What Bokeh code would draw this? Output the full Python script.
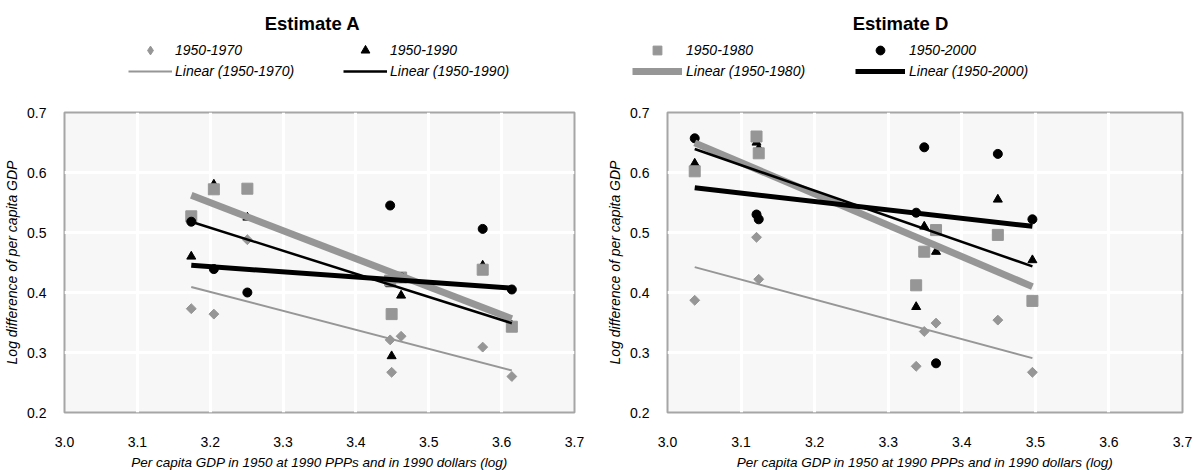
import numpy as np
from bokeh.plotting import figure
from bokeh.models import (Range1d, FixedTicker, NumeralTickFormatter, Legend,
                          LegendItem, Label)
from bokeh.layouts import row, column
from bokeh.embed import file_html
from bokeh.resources import INLINE

# ---------------- data ----------------
x_ticks = [3.0, 3.1, 3.2, 3.3, 3.4, 3.5, 3.6, 3.7]
y_ticks = [0.2, 0.3, 0.4, 0.5, 0.6, 0.7]

# Estimate A
a_x = [3.174, 3.205, 3.251, 3.447, 3.449, 3.462, 3.574, 3.614]
a_1970 = [0.373, 0.364, 0.488, 0.321, 0.267, 0.327, 0.309, 0.260]
a_1980 = [0.527, 0.572, 0.573, 0.420, 0.364, 0.425, 0.438, 0.343]
a_1990 = [0.460, 0.580, 0.525, 0.414, 0.294, 0.395, 0.445, 0.345]
a_2000 = [0.518, 0.439, 0.400, 0.545, 0.170, 0.425, 0.506, 0.405]

# Estimate D
d_x = [3.037, 3.121, 3.124, 3.338, 3.349, 3.365, 3.449, 3.496]
d_1970 = [0.387, 0.492, 0.422, 0.277, 0.335, 0.349, 0.354, 0.267]
d_1980 = [0.602, 0.660, 0.632, 0.412, 0.468, 0.504, 0.496, 0.386]
d_1990 = [0.615, 0.650, 0.640, 0.376, 0.510, 0.468, 0.555, 0.454]
d_2000 = [0.657, 0.530, 0.522, 0.533, 0.642, 0.282, 0.631, 0.522]

titles = ["Estimate A", "Estimate D"]
x_title = "Per capita GDP in 1950 at 1990 PPPs and in 1990 dollars (log)"
y_title = "Log difference of per capita GDP"

FONT = "Liberation Sans"
GREY = "#969696"

STYLE = {
    "1950-1970": dict(marker="square", angle=np.pi / 4, size=7, color=GREY,
                      lc=GREY, lw=2, key="diamond"),
    "1950-1980": dict(marker="square", angle=0, size=11, color=GREY,
                      lc=GREY, lw=7, key="square"),
    "1950-1990": dict(marker="triangle", angle=0, size=9, color="black",
                      lc="black", lw=2.5, key="triangle"),
    "1950-2000": dict(marker="circle", angle=0, size=9, color="black",
                      lc="black", lw=5, key="circle"),
}


def trend(xs, ys):
    k, b = np.polyfit(xs, ys, 1)
    xe = [min(xs), max(xs)]
    return xe, [k * v + b for v in xe]


def build(xs, series, b_left, b_right, f_width):
    p = figure(frame_width=f_width, frame_height=300,
               x_range=Range1d(3.0, 3.7), y_range=Range1d(0.2, 0.7),
               output_backend="svg", toolbar_location=None, title=None,
               min_border_left=b_left, min_border_right=b_right,
               min_border_top=8, min_border_bottom=58,
               background_fill_color="#f7f7f7", border_fill_color="white",
               outline_line_color="#a6a6a6", outline_line_width=2)

    for name in ["1950-1970", "1950-1990", "1950-1980", "1950-2000"]:
        st = STYLE[name]
        p.scatter(xs, series[name], marker=st["marker"], angle=st["angle"],
                  size=st["size"], color=st["color"])
    for name in ["1950-1970", "1950-1980", "1950-1990", "1950-2000"]:
        st = STYLE[name]
        tx, ty = trend(xs, series[name])
        p.line(tx, ty, line_color=st["lc"], line_width=st["lw"])

    for ax in (p.xaxis[0], p.yaxis[0]):
        ax.axis_line_color = None
        ax.major_tick_line_color = None
        ax.minor_tick_line_color = None
        ax.major_label_text_font = FONT
        ax.major_label_text_font_size = "14px"
        ax.major_label_text_color = "black"
        ax.axis_label_text_font = FONT
        ax.axis_label_text_font_style = "italic"
        ax.axis_label_text_color = "black"
        ax.formatter = NumeralTickFormatter(format="0.0")
    p.xaxis.axis_label_text_font_size = "13.5px"
    p.yaxis.axis_label_text_font_size = "14px"
    p.xaxis.ticker = FixedTicker(ticks=x_ticks)
    p.yaxis.ticker = FixedTicker(ticks=y_ticks)
    p.xaxis.major_label_standoff = 18
    p.yaxis.major_label_standoff = 12
    p.xaxis.axis_label = x_title
    p.yaxis.axis_label = y_title
    p.xaxis.axis_label_standoff = 5
    p.yaxis.axis_label_standoff = 4

    p.xgrid.ticker = FixedTicker(ticks=x_ticks)
    p.ygrid.ticker = FixedTicker(ticks=y_ticks)
    p.grid.grid_line_color = "white"
    p.grid.grid_line_width = 3
    return p


pA = build(a_x, {"1950-1970": a_1970, "1950-1980": a_1980,
                 "1950-1990": a_1990, "1950-2000": a_2000}, 64, 30, 510)
pD = build(d_x, {"1950-1970": d_1970, "1950-1980": d_1980,
                 "1950-1990": d_1990, "1950-2000": d_2000}, 63, 11, 515)

# ---------------- header: titles and legend keys ----------------
H = 104
hdr = figure(width=1193, height=H, x_range=Range1d(0, 1193),
             y_range=Range1d(H, 0), output_backend="svg",
             toolbar_location=None, title=None, min_border=0,
             x_axis_location=None, y_axis_location=None,
             outline_line_color=None)
hdr.grid.visible = False

# legend-key renderers (a single NaN point each, nothing drawn in the plot)
keys = {}
for name, st in STYLE.items():
    m = hdr.scatter([np.nan], [np.nan], marker=st["key"],
                    size=st["size"], color=st["color"])
    l = hdr.line([np.nan, np.nan], [np.nan, np.nan], line_color=st["lc"],
                 line_width=st["lw"])
    keys[name] = (m, l)


def legend(names, which, loc, glyph_w, standoff, label_w):
    items = []
    for n in names:
        if which == 0:
            items.append(LegendItem(label=n, renderers=[keys[n][0]]))
        else:
            items.append(LegendItem(label="Linear (" + n + ")",
                                    renderers=[keys[n][1]]))
    return Legend(items=items, orientation="horizontal", location=loc,
                  padding=0, margin=0, spacing=0,
                  glyph_width=glyph_w, glyph_height=22, label_height=22,
                  label_width=label_w, label_standoff=standoff,
                  label_text_font=FONT, label_text_font_style="italic",
                  label_text_font_size="14px", label_text_color="black",
                  border_line_color=None, background_fill_alpha=0)


left_names = ["1950-1970", "1950-1990"]
right_names = ["1950-1980", "1950-2000"]
hdr.add_layout(legend(left_names, 0, (128, 43), 44, 3, 168))
hdr.add_layout(legend(left_names, 1, (128, 22), 44, 3, 168))
hdr.add_layout(legend(right_names, 0, (632, 43), 50, 4, 169))
hdr.add_layout(legend(right_names, 1, (632, 22), 50, 4, 169))

for t, cx in zip(titles, [312, 900]):
    hdr.add_layout(Label(x=cx, y=23, text=t, text_align="center",
                         text_baseline="middle", text_font=FONT,
                         text_font_size="18.5px", text_font_style="bold",
                         text_color="black"))

layout = column(hdr, row(pA, pD))
open("out.html", "w").write(file_html(layout, INLINE))
